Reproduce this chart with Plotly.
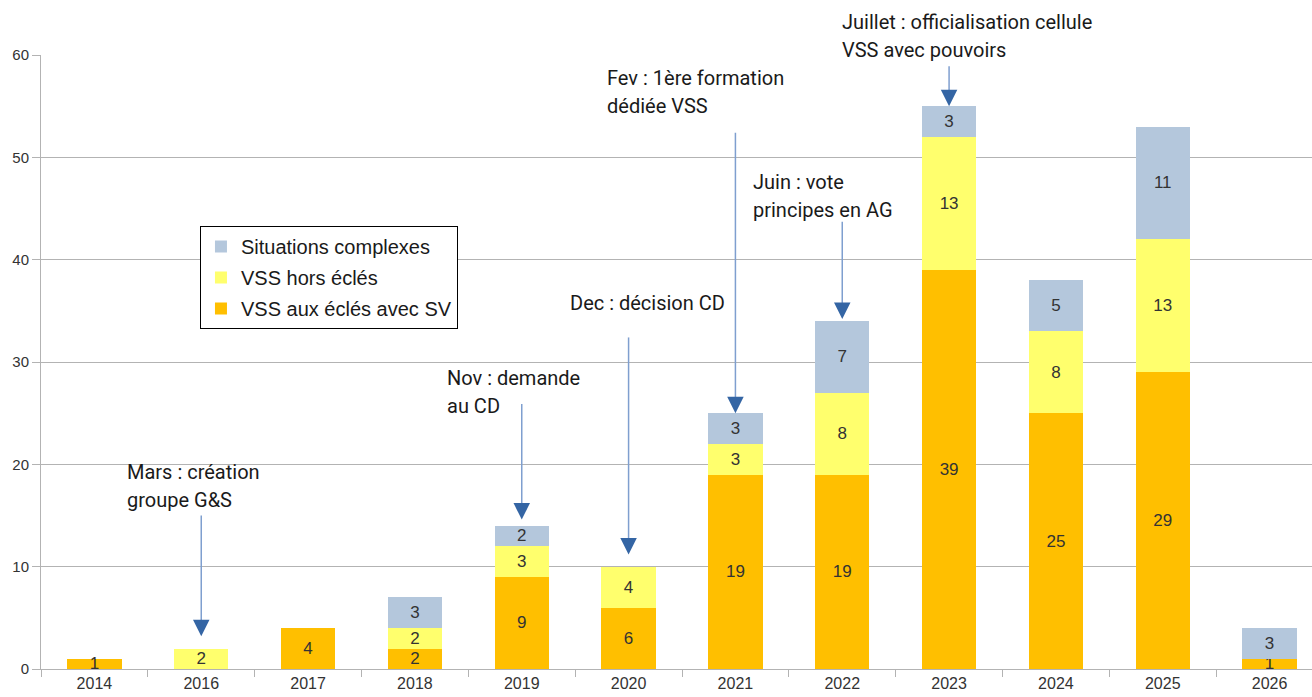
import plotly.graph_objects as go

years = ["2014", "2016", "2017", "2018", "2019", "2020", "2021", "2022", "2023", "2024", "2025", "2026"]
vss_ecles_sv = [1, None, 4, 2, 9, 6, 19, 19, 39, 25, 29, 1]
vss_hors = [None, 2, None, 2, 3, 4, 3, 8, 13, 8, 13, None]
situations = [None, None, None, 3, 2, None, 3, 7, 3, 5, 11, 3]

series_names = ["VSS aux éclés avec SV", "VSS hors éclés", "Situations complexes"]
series_colors = ["#ffbf00", "#ffff6d", "#b4c7dc"]
series_rank = [3, 2, 1]

events_year = ["2016", "2019", "2020", "2021", "2022", "2023"]
events_lines = [
    ["Mars : création", "groupe G&S"],
    ["Nov : demande", "au CD"],
    ["Dec : décision CD"],
    ["Fev : 1ère formation", "dédiée VSS"],
    ["Juin : vote", "principes en AG"],
    ["Juillet : officialisation cellule", "VSS avec pouvoirs"],
]
# text anchor (left x offset in category units, first-line y in data units), arrow start y, tip gap above bar
events_text_pos = [(-0.713, 19.25), (-0.717, 28.45), (-0.566, 35.77), (-1.219, 57.75), (-0.852, 47.59), (-1.019, 63.23)]
events_arrow_start = [15.0, 25.9, 32.4, 52.4, 43.7, 58.9]
events_tip_gap = [1.2, 0.6, 1.2, 0.0, 0.2, 0.0]

YMAX = 60

fig = go.Figure()
for name, vals, col, rk in zip(series_names, [vss_ecles_sv, vss_hors, situations], series_colors, series_rank):
    fig.add_trace(go.Bar(
        x=years, y=vals, name=name, legendgroup=name, legendrank=rk,
        marker=dict(color=col, line=dict(width=0)),
        text=[("" if v is None else str(v)) for v in vals],
        textposition="inside", insidetextanchor="middle", textangle=0,
        textfont=dict(family="Liberation Sans", size=17, color="#333333"),
        constraintext="none",
    ))

totals = [(a or 0) + (b or 0) + (c or 0) for a, b, c in zip(vss_ecles_sv, vss_hors, situations)]

annotations = []
shapes = []
for yr, lines, (dx, ty), ys, gap in zip(events_year, events_lines, events_text_pos, events_arrow_start, events_tip_gap):
    idx = years.index(yr)
    top = totals[idx]
    for k, line in enumerate(lines):
        annotations.append(dict(
            x=idx + dx, y=(ty - k * 2.74) / YMAX, xref="x", yref="paper", text=line, showarrow=False,
            xanchor="left", yanchor="middle",
            font=dict(family="Roboto", size=20, color="#1a1a1a"),
        ))
    tip = top + gap
    shapes.append(dict(type="line", xref="x", yref="y", x0=idx, x1=idx, y0=ys, y1=tip + 1.0,
                       line=dict(color="#7f9fcf", width=1.5)))
    annotations.append(dict(
        x=idx, y=tip, xref="x", yref="y", ax=idx, ay=tip + 1.3, axref="x", ayref="y",
        text="", showarrow=True, arrowhead=2, arrowsize=2.2, arrowwidth=1.5,
        arrowcolor="#3465a4", standoff=0,
    ))

# the chart continues slightly past the right edge of the window, as in the reference
fig.update_layout(
    barmode="stack",
    bargap=0.49,
    width=1323, height=697,
    margin=dict(l=41, r=0, t=55, b=28),
    paper_bgcolor="white", plot_bgcolor="white",
    uniformtext=dict(minsize=17, mode="show"),
    font=dict(family="Liberation Sans", color="#333333"),
    legend=dict(
        x=0.124, y=0.7215, xanchor="left", yanchor="top",
        traceorder="grouped", tracegroupgap=2,
        bordercolor="#000000", borderwidth=1, bgcolor="white",
        font=dict(family="Liberation Sans", size=20, color="#1a1a1a"),
        itemwidth=30,
    ),
    xaxis=dict(
        type="category", range=[-0.5, 11.5],
        showline=True, linecolor="#b3b3b3", linewidth=1,
        ticks="outside", tickson="boundaries", ticklen=7, tickcolor="#b3b3b3",
        tickfont=dict(family="Liberation Sans", size=16, color="#333333"),
        showgrid=False, automargin=False,
    ),
    yaxis=dict(
        range=[0, YMAX], dtick=10,
        showline=True, linecolor="#b3b3b3", linewidth=1,
        ticks="outside", ticklen=8, tickcolor="#b3b3b3",
        gridcolor="#b3b3b3", gridwidth=1,
        tickfont=dict(family="Liberation Sans", size=15, color="#333333"),
        zeroline=False, automargin=False,
    ),
    annotations=annotations,
    shapes=shapes,
)

fig.write_html(
    "out.html",
    config={"displayModeBar": False},
    post_script="document.body.style.margin='0';document.body.style.overflow='hidden';",
)
